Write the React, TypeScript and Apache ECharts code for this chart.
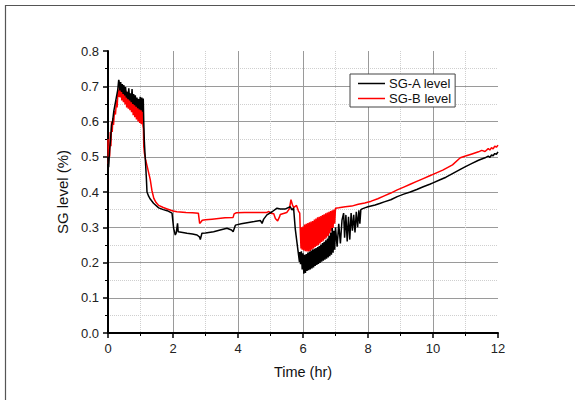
import React, { useEffect, useRef } from "react";
import * as echarts from "echarts";

const xTicks = [0, 2, 4, 6, 8, 10, 12];
const yTicks = [0, 0.1, 0.2, 0.3, 0.4, 0.5, 0.6, 0.7, 0.8];
const seriesNames = ["SG-A level", "SG-B level"];

// SG-A level (black): [time hr, level]
const sgA: [number, number][] = [
  [0, 0.5], [0.02, 0.47], [0.05, 0.52], [0.08, 0.55], [0.11, 0.59], [0.14, 0.6], [0.18, 0.63], [0.22, 0.65], [0.26, 0.67], [0.3, 0.69], [0.33, 0.718],
  [0.34, 0.715], [0.365, 0.688], [0.39, 0.712], [0.415, 0.684], [0.44, 0.706], [0.465, 0.678], [0.49, 0.703], [0.515, 0.674], [0.54, 0.698], [0.565, 0.668],
  [0.59, 0.684], [0.615, 0.663], [0.64, 0.694], [0.665, 0.66], [0.69, 0.68], [0.715, 0.655], [0.74, 0.692], [0.765, 0.65], [0.79, 0.678], [0.815, 0.646],
  [0.84, 0.674], [0.865, 0.642], [0.89, 0.668], [0.915, 0.638], [0.94, 0.664], [0.965, 0.634], [0.99, 0.67], [1.015, 0.632], [1.04, 0.668], [1.065, 0.628], [1.085, 0.665],
  [1.1, 0.6], [1.12, 0.54], [1.15, 0.49], [1.18, 0.44], [1.2, 0.4], [1.25, 0.388], [1.3, 0.38], [1.4, 0.368], [1.56, 0.355], [1.7, 0.35], [1.82, 0.347], [1.97, 0.34],
  [2.02, 0.297], [2.07, 0.278], [2.1, 0.284], [2.14, 0.311], [2.16, 0.287], [2.3, 0.285], [2.43, 0.283], [2.6, 0.281], [2.74, 0.278], [2.82, 0.272], [2.84, 0.265], [2.89, 0.283],
  [3.0, 0.284], [3.25, 0.287], [3.45, 0.292], [3.66, 0.297], [3.8, 0.292], [3.85, 0.287], [3.92, 0.306], [4.1, 0.31], [4.28, 0.313], [4.5, 0.316], [4.69, 0.319], [4.74, 0.311],
  [4.79, 0.323], [4.89, 0.335], [5.05, 0.344], [5.2, 0.354], [5.3, 0.352], [5.46, 0.352], [5.61, 0.358], [5.66, 0.349], [5.71, 0.355], [5.76, 0.297], [5.81, 0.26], [5.85, 0.231], [5.89, 0.202],
  [5.9, 0.23], [5.925, 0.195], [5.95, 0.232], [5.975, 0.18], [6.0, 0.226], [6.025, 0.168], [6.05, 0.222], [6.075, 0.17], [6.1, 0.224], [6.125, 0.176], [6.15, 0.228], [6.175, 0.178],
  [6.2, 0.231], [6.225, 0.18], [6.25, 0.234], [6.275, 0.183], [6.3, 0.237], [6.325, 0.186], [6.35, 0.239], [6.375, 0.19], [6.4, 0.241], [6.425, 0.193], [6.45, 0.244], [6.475, 0.196],
  [6.5, 0.247], [6.525, 0.199], [6.55, 0.251], [6.575, 0.202], [6.6, 0.255], [6.625, 0.205], [6.65, 0.259], [6.675, 0.208], [6.7, 0.263], [6.725, 0.211], [6.75, 0.268], [6.775, 0.214],
  [6.8, 0.276], [6.825, 0.218], [6.85, 0.284], [6.875, 0.222], [6.9, 0.298], [6.925, 0.228], [6.95, 0.29], [6.975, 0.236], [7.0, 0.3],
  [7.05, 0.245], [7.1, 0.31], [7.15, 0.254], [7.2, 0.32], [7.25, 0.34], [7.28, 0.27], [7.32, 0.335], [7.36, 0.26], [7.4, 0.33], [7.44, 0.265], [7.48, 0.34], [7.52, 0.29],
  [7.56, 0.335], [7.6, 0.285], [7.64, 0.344], [7.68, 0.3], [7.72, 0.348], [7.75, 0.31], [7.78, 0.35], [7.82, 0.352], [7.9, 0.355], [8.0, 0.358], [8.22, 0.363], [8.38, 0.368],
  [8.5, 0.372], [8.7, 0.378], [8.9, 0.387], [9.1, 0.394], [9.3, 0.4], [9.5, 0.407], [9.7, 0.415], [9.9, 0.422], [10.0, 0.426], [10.2, 0.434], [10.4, 0.442], [10.6, 0.452],
  [10.84, 0.464], [11.0, 0.472], [11.2, 0.481], [11.4, 0.49], [11.6, 0.497], [11.7, 0.502], [11.75, 0.498], [11.8, 0.505], [11.85, 0.503], [11.9, 0.509], [11.95, 0.507], [12.0, 0.514],
];

// SG-B level (red): [time hr, level]
const sgB: [number, number][] = [
  [0, 0.55], [0.01, 0.48], [0.03, 0.53], [0.05, 0.5], [0.07, 0.57], [0.09, 0.53], [0.11, 0.6], [0.13, 0.57], [0.15, 0.61], [0.17, 0.59], [0.2, 0.63], [0.23, 0.62],
  [0.26, 0.66], [0.28, 0.64], [0.31, 0.69], [0.33, 0.67],
  [0.35, 0.705], [0.375, 0.668], [0.4, 0.7], [0.425, 0.66], [0.45, 0.696], [0.475, 0.655], [0.5, 0.692], [0.525, 0.648], [0.55, 0.688], [0.575, 0.64],
  [0.6, 0.684], [0.625, 0.636], [0.65, 0.68], [0.675, 0.632], [0.7, 0.676], [0.725, 0.626], [0.75, 0.672], [0.775, 0.618], [0.8, 0.668], [0.825, 0.612],
  [0.85, 0.662], [0.875, 0.606], [0.9, 0.658], [0.925, 0.6], [0.95, 0.652], [0.975, 0.596], [1.0, 0.648], [1.025, 0.592], [1.05, 0.64], [1.075, 0.588],
  [1.09, 0.58], [1.1, 0.53], [1.12, 0.51], [1.16, 0.49], [1.2, 0.475], [1.25, 0.455], [1.3, 0.435], [1.35, 0.405], [1.41, 0.382], [1.48, 0.37], [1.56, 0.362],
  [1.7, 0.356], [1.82, 0.352], [2.0, 0.346], [2.12, 0.344], [2.4, 0.342], [2.6, 0.341], [2.78, 0.34], [2.82, 0.311], [2.86, 0.315], [2.9, 0.32], [3.0, 0.321],
  [3.2, 0.323], [3.4, 0.325], [3.6, 0.327], [3.85, 0.328], [3.88, 0.338], [3.95, 0.341], [4.2, 0.342], [4.5, 0.342], [4.89, 0.342], [4.95, 0.345], [5.0, 0.34],
  [5.1, 0.338], [5.15, 0.325], [5.22, 0.318], [5.28, 0.33], [5.3, 0.336], [5.5, 0.342], [5.58, 0.352], [5.63, 0.378], [5.68, 0.362], [5.72, 0.356], [5.8, 0.362],
  [5.86, 0.346], [5.9, 0.34], [5.92, 0.28], [5.94, 0.24],
  [5.95, 0.3], [5.975, 0.236], [6.0, 0.302], [6.025, 0.234], [6.05, 0.308], [6.075, 0.232], [6.1, 0.31], [6.125, 0.231], [6.15, 0.312], [6.175, 0.231],
  [6.2, 0.314], [6.225, 0.233], [6.25, 0.316], [6.275, 0.236], [6.3, 0.318], [6.325, 0.24], [6.35, 0.322], [6.375, 0.244], [6.4, 0.325], [6.425, 0.247],
  [6.45, 0.328], [6.475, 0.25], [6.5, 0.33], [6.525, 0.254], [6.55, 0.332], [6.575, 0.258], [6.6, 0.335], [6.625, 0.262], [6.65, 0.337], [6.675, 0.266],
  [6.7, 0.34], [6.725, 0.27], [6.75, 0.342], [6.775, 0.275], [6.8, 0.344], [6.825, 0.282], [6.85, 0.346], [6.875, 0.29], [6.9, 0.348], [6.925, 0.298],
  [6.95, 0.35], [6.975, 0.31], [7.0, 0.354],
  [7.1, 0.355], [7.3, 0.358], [7.5, 0.36], [7.7, 0.365], [7.9, 0.369], [8.1, 0.374], [8.3, 0.381], [8.5, 0.389], [8.7, 0.397], [8.9, 0.406], [9.1, 0.414],
  [9.3, 0.422], [9.5, 0.43], [9.7, 0.438], [9.9, 0.446], [10.0, 0.45], [10.3, 0.462], [10.6, 0.477], [10.84, 0.497], [11.0, 0.502], [11.2, 0.508], [11.4, 0.514],
  [11.5, 0.518], [11.6, 0.515], [11.7, 0.523], [11.75, 0.519], [11.8, 0.526], [11.85, 0.522], [11.9, 0.53], [11.95, 0.527], [12.0, 0.533],
];

const FONT = "'Liberation Sans', Arial, sans-serif";
const LINE_ICON = "path://M0,0 L54,0 L54,3 L0,3 Z";

export default function App() {
  const ref = useRef<HTMLDivElement>(null);
  useEffect(() => {
    document.body.style.margin = "0";
    const chart = echarts.init(ref.current!, null, { renderer: "svg" });
    const axisCommon = {
      axisLine: { show: true, lineStyle: { color: "#000", width: 2 } },
      axisTick: { show: true, inside: false, length: 5, lineStyle: { color: "#000", width: 1.5 } },
      minorTick: { show: true, splitNumber: 2, length: 3, lineStyle: { color: "#000", width: 1 } },
      splitLine: { show: true, showMinLine: false, showMaxLine: false, lineStyle: { color: "#9a9a9a", width: 1 } },
      minorSplitLine: { show: true, lineStyle: { color: "#cfcfcf", width: 1, type: "dotted" as const } },
    };
    chart.setOption({
      animation: false,
      backgroundColor: "#fff",
      textStyle: { fontFamily: FONT },
      grid: { left: 108, right: 77, top: 51, bottom: 67 },
      graphic: [
        {
          type: "rect",
          shape: { x: 5.5, y: 5.5, width: 600, height: 420 },
          style: { fill: "none", stroke: "#555", lineWidth: 1.2 },
          silent: true,
        },
      ],
      legend: {
        data: seriesNames.map((n) => ({ name: n, icon: LINE_ICON })),
        orient: "vertical",
        left: 350,
        top: 74,
        padding: [3, 4, 2, 8],
        itemGap: 2,
        itemWidth: 27,
        itemHeight: 12,
        borderColor: "#444",
        borderWidth: 1,
        backgroundColor: "#fff",
        textStyle: { fontFamily: FONT, fontSize: 13, color: "#111", lineHeight: 12, padding: [0, 0, 0, -1] },
      },
      xAxis: {
        type: "value",
        min: xTicks[0],
        max: xTicks[xTicks.length - 1],
        interval: 2,
        name: "Time (hr)",
        nameLocation: "middle",
        nameGap: 31,
        nameTextStyle: { fontFamily: FONT, fontSize: 14.5, color: "#111" },
        axisLabel: { fontFamily: FONT, fontSize: 13, color: "#222", margin: 9 },
        ...axisCommon,
      },
      yAxis: {
        type: "value",
        min: yTicks[0],
        max: yTicks[yTicks.length - 1],
        interval: 0.1,
        name: "SG level (%)",
        nameLocation: "middle",
        nameGap: 38,
        nameRotate: 90,
        nameTextStyle: { fontFamily: FONT, fontSize: 15, color: "#111" },
        axisLabel: { fontFamily: FONT, fontSize: 13, color: "#222", margin: 9, formatter: (v: number) => v.toFixed(1) },
        ...axisCommon,
      },
      series: [
        {
          name: seriesNames[1],
          type: "line",
          data: sgB,
          symbol: "none",
          lineStyle: { color: "#ff0000", width: 1.5 },
          itemStyle: { color: "#ff0000" },
          z: 2,
        },
        {
          name: seriesNames[0],
          type: "line",
          data: sgA,
          symbol: "none",
          lineStyle: { color: "#000", width: 1.5 },
          itemStyle: { color: "#000" },
          z: 3,
        },
      ],
    });
    return () => chart.dispose();
  }, []);
  return <div ref={ref} style={{ position: "fixed", left: 0, top: 0, width: 575, height: 400 }} />;
}
